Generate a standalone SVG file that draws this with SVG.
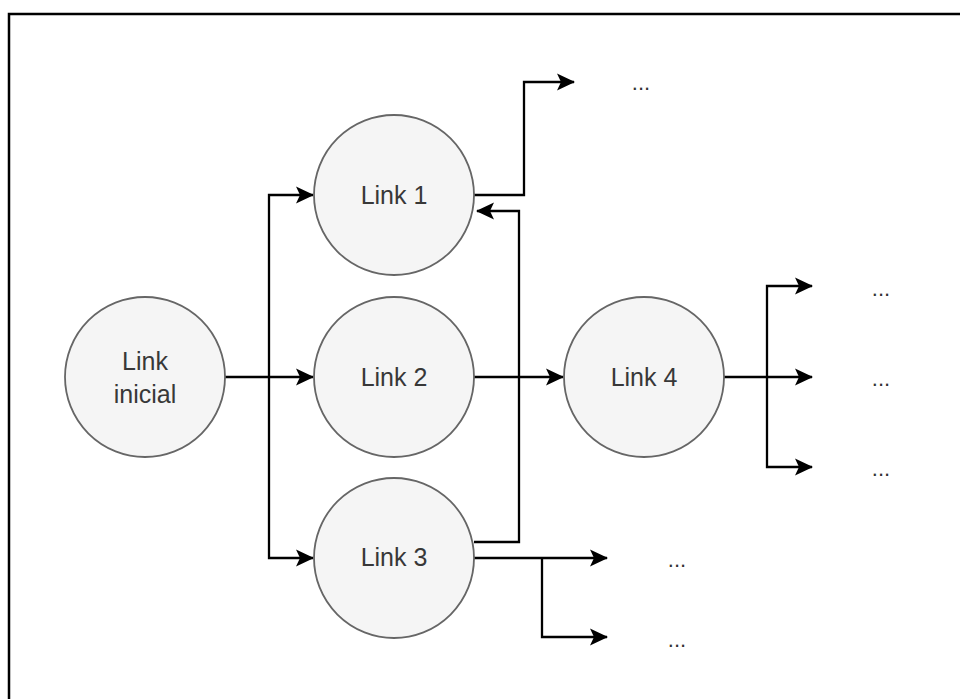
<svg xmlns="http://www.w3.org/2000/svg" width="960" height="699" viewBox="0 0 960 699">
<style>
.node{fill:#f5f5f5;stroke:#666;stroke-width:1.8}
.lbl{font-family:"Liberation Sans",Arial,sans-serif;font-size:25px;fill:#383838;text-anchor:middle;dominant-baseline:central}
.dots{font-family:"Liberation Sans",Arial,sans-serif;font-size:22px;fill:#333;text-anchor:middle}
.edge{fill:none;stroke:#000;stroke-width:2.3}
</style>
<defs>
<marker id="arr" viewBox="0 0 18 18" refX="17" refY="9" markerWidth="18" markerHeight="18" markerUnits="userSpaceOnUse" orient="auto">
<path d="M0,0.5 L18,9 L0,17.5 L4,9 z" fill="#000"/>
</marker>
</defs>
<rect x="0" y="0" width="960" height="699" fill="#fff"/>
<rect x="9" y="14" width="970" height="720" fill="none" stroke="#000" stroke-width="2.5"/>
<g id="connectors">
<path class="edge" d="M225,377 H313" marker-end="url(#arr)"/>
<path class="edge" d="M269,377 V195 H313" marker-end="url(#arr)"/>
<path class="edge" d="M269,377 V558 H313" marker-end="url(#arr)"/>
<path class="edge" d="M474,195 H524 V82 H574" marker-end="url(#arr)"/>
<path class="edge" d="M474,542 H519 V211 H477" marker-end="url(#arr)"/>
<path class="edge" d="M474,377 H563" marker-end="url(#arr)"/>
<path class="edge" d="M724,377 H812" marker-end="url(#arr)"/>
<path class="edge" d="M767,377 V286 H812" marker-end="url(#arr)"/>
<path class="edge" d="M767,377 V467 H812" marker-end="url(#arr)"/>
<path class="edge" d="M474,558 H607" marker-end="url(#arr)"/>
<path class="edge" d="M542,558 V637 H607" marker-end="url(#arr)"/>
</g>
<g id="link-inicial">
<circle class="node" cx="145" cy="377" r="80"/>
<text class="lbl" x="145" y="361">Link</text>
<text class="lbl" x="145" y="394">inicial</text>
</g>
<g id="link1">
<circle class="node" cx="394" cy="195" r="80"/>
<text class="lbl" x="394" y="195">Link 1</text>
</g>
<g id="link2">
<circle class="node" cx="394" cy="377" r="80"/>
<text class="lbl" x="394" y="377">Link 2</text>
</g>
<g id="link3">
<circle class="node" cx="394" cy="558" r="80"/>
<text class="lbl" x="394" y="557">Link 3</text>
</g>
<g id="link4">
<circle class="node" cx="644" cy="377" r="80"/>
<text class="lbl" x="644" y="377">Link 4</text>
</g>
<g id="dots1"><text class="dots" x="641" y="90">...</text></g>
<g id="dots2"><text class="dots" x="881" y="296">...</text></g>
<g id="dots3"><text class="dots" x="881" y="386">...</text></g>
<g id="dots4"><text class="dots" x="881" y="476">...</text></g>
<g id="dots5"><text class="dots" x="677" y="567">...</text></g>
<g id="dots6"><text class="dots" x="677" y="647">...</text></g>
</svg>
